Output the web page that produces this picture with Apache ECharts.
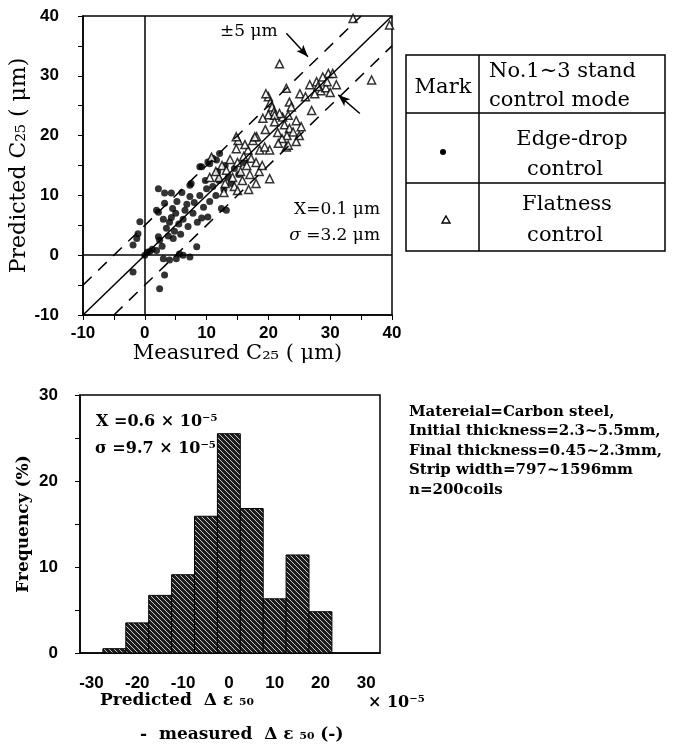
<!DOCTYPE html>
<html>
<head>
<meta charset="utf-8">
<script src="https://cdn.jsdelivr.net/npm/echarts@6/dist/echarts.min.js"></script>
<style>
  html, body { margin: 0; background: #fff; }
  #chart { width: 695px; height: 752px; }
</style>
</head>
<body>
<div id="chart"></div>
<script>
// Measured vs predicted C25 (um) - edge-drop control coils (filled dots)
const edgeDrop = [
  [-1.9, 1.7], [-1.1, 3.6], [-0.8, 5.6], [-1.3, 2.8], [-1.9, -2.8], [0, 0], [0.4, 0.5],
  [0.8, 0.6], [1.9, 0.8], [1.2, 1.0], [3.0, -0.6], [4.0, -0.8], [5.1, -0.6], [6.2, 0],
  [7.3, -0.3], [5.6, 0.2], [3.2, -3.3], [2.4, -5.6], [2.2, 3.1], [2.4, 2.5], [8.4, 1.4],
  [1.9, 7.5], [2.2, 7.2], [3.2, 8.7], [2.2, 11.1], [3.2, 10.4], [4.3, 10.4], [7.3, 9.8],
  [7.3, 11.7], [7.5, 12], [9.2, 14.8], [10.2, 15.6], [11.0, 16.2], [12.1, 17], [12.4, 7.8],
  [13.2, 7.5], [8.9, 10], [10.0, 11.1], [10.2, 6.4], [9.2, 6.2], [3.5, 4.5], [4.0, 5.5],
  [4.3, 6.3], [4.8, 4.0], [5.0, 7.0], [5.5, 5.2], [5.8, 3.5], [6.2, 6.0], [6.5, 7.5],
  [7.0, 4.8], [3.8, 3.2], [4.5, 7.8], [6.8, 8.5], [7.8, 7.0], [8.0, 8.8], [8.5, 5.5],
  [9.5, 8.0], [10.5, 9.0], [11.0, 11.5], [11.5, 10.0], [12.0, 12.5], [12.8, 11.0],
  [13.5, 13.0], [14.0, 12.0], [14.5, 14.5], [13.0, 15.0], [9.8, 12.5], [11.8, 14.0],
  [15.2, 13.5], [16.0, 15.5], [3.0, 6.0], [5.2, 9.0], [6.0, 10.5], [4.6, 2.8], [2.8, 1.5],
  [8.9, 14.8], [10.5, 15.3], [11.6, 15.9]
];

// flatness control coils (open triangles)
const flatness = [
  [33.7, 39.6], [39.6, 38.5], [36.7, 29.3], [21.8, 32], [22.9, 27.9], [25.1, 27.0],
  [26.7, 28.5], [27.8, 29.0], [28.5, 27.5], [29.3, 28.0], [29.7, 30.4], [30.4, 30.4],
  [30.0, 27.2], [28.8, 29.8], [29.5, 29.0], [27.0, 24.2], [20.0, 26.5], [20.3, 25.5],
  [20.6, 24.8], [20.9, 24.0], [20.0, 23.5], [19.6, 27.0], [23.4, 25.6], [23.7, 24.8],
  [23.2, 23.4], [22.3, 23.1], [21.8, 23.7], [22.6, 21.8], [23.4, 21.2], [24.0, 20.6],
  [23.0, 20.0], [22.2, 19.5], [21.0, 23.4], [21.0, 22.3], [19.1, 22.9], [22.9, 18.1],
  [21.6, 18.7], [20.2, 17.6], [18.6, 17.6], [17.5, 19.2], [18.1, 19.8], [16.7, 17.6],
  [15.1, 19.2], [14.8, 17.8], [14.8, 19.8], [17.8, 19.8], [20.2, 12.8], [19.4, 18.1],
  [23.2, 18.4], [10.8, 16.4], [12.5, 15.0], [13.2, 14.2], [13.8, 16.0], [14.2, 13.0],
  [15.0, 15.5], [15.5, 14.0], [16.0, 16.5], [16.5, 15.0], [17.0, 13.5], [17.2, 16.2],
  [18.0, 15.5], [18.5, 14.0], [12.0, 13.0], [13.0, 12.0], [14.5, 11.5], [15.8, 12.5],
  [16.8, 11.0], [18.0, 12.0], [19.0, 15.0], [11.5, 14.0], [10.5, 13.0], [24.5, 22.5],
  [25.0, 20.0], [24.5, 19.0], [25.3, 21.5], [21.5, 20.5], [19.5, 21.0], [26.0, 26.5],
  [27.5, 27.0], [28.0, 28.2], [31.0, 28.5], [12.8, 10.5], [15.0, 10.8], [16.2, 18.5]
];

// y = x and the +-5 um band
const diagLine = [[-10, -10], [40, 40]];
const upperBand = [[-10, -5], [35, 40]];
const lowerBand = [[-5, -10], [40, 35]];
const upperArrow = [[22.9, 37.1], [26.4, 33.2]];
const lowerArrow = [[34.8, 23.7], [31.3, 26.8]];

// histogram of predicted - measured delta eps50 (x1e-5), bin width 5
const histCenters = [-25, -20, -15, -10, -5, 0, 5, 10, 15, 20];
const histFreq = [0.5, 3.5, 6.7, 9.1, 15.9, 25.5, 16.8, 6.3, 11.4, 4.8];
const histLabels = [-30, -20, -10, 0, 10, 20, 30];
const binWidth = 5;

const infoLines = [
  'Matereial=Carbon steel,',
  'Initial thickness=2.3~5.5mm,',
  'Final thickness=0.45~2.3mm,',
  'Strip width=797~1596mm',
  'n=200coils'
];

const serif = '"DejaVu Serif", "Liberation Serif", serif';
const sans = '"Liberation Sans", Arial, sans-serif';

const chart = echarts.init(document.getElementById('chart'));

// dark hatch used in the printed histogram
function hatch() {
  const c = document.createElement('canvas');
  c.width = 5; c.height = 5;
  const g = c.getContext('2d');
  g.fillStyle = '#1c1c1c';
  g.fillRect(0, 0, 5, 5);
  g.strokeStyle = '#c8c8c8';
  g.lineWidth = 1;
  g.beginPath();
  g.moveTo(0, 0); g.lineTo(5, 5);
  g.moveTo(-3, 2); g.lineTo(3, 8);
  g.moveTo(2, -3); g.lineTo(8, 3);
  g.stroke();
  return c;
}

const tickLabel = { color: '#000', fontFamily: sans, fontWeight: 'bold', fontSize: 17 };
const blackLine = { color: '#000', width: 1.5 };
const seg = (pts) => [{ coord: pts[0] }, { coord: pts[1] }];
const dashed = { type: [12, 9], width: 1.5, color: '#000' };

const scatterLines = [{ yAxis: 0 }, { xAxis: 0 }, seg(diagLine), seg(upperBand), seg(lowerBand)];
scatterLines[3][0].lineStyle = dashed;
scatterLines[4][0].lineStyle = dashed;

const arrowLines = [seg(upperArrow), seg(lowerArrow)];
arrowLines[0][0].lineStyle = { curveness: -0.35, color: '#000', width: 1.5, type: 'solid' };

const option = {
  animation: false,
  backgroundColor: '#fff',
  grid: [
    { left: 83, top: 16, width: 309, height: 299, show: true, borderColor: '#000', borderWidth: 1.5 },
    { left: 80, top: 395, width: 300, height: 258, show: true, borderColor: '#000', borderWidth: 1.5 }
  ],
  xAxis: [
    {
      gridIndex: 0, type: 'value', min: -10, max: 40, interval: 10,
      axisLine: { onZero: false, lineStyle: blackLine },
      axisTick: { length: 5, lineStyle: { color: '#000' } },
      minorTick: { show: true, splitNumber: 2, length: 5, lineStyle: { color: '#000' } },
      splitLine: { show: false },
      axisLabel: Object.assign({ margin: 10 }, tickLabel),
      name: 'Measured C₂₅ ( μm)', nameLocation: 'middle', nameGap: 24,
      nameTextStyle: { color: '#000', fontFamily: serif, fontSize: 21 }
    },
    {
      gridIndex: 1, type: 'value', min: -32.5, max: 33,
      axisLine: { onZero: false, lineStyle: blackLine },
      axisTick: { show: false },
      splitLine: { show: false },
      axisLabel: Object.assign({ margin: 22, customValues: histLabels }, tickLabel)
    }
  ],
  yAxis: [
    {
      gridIndex: 0, type: 'value', min: -10, max: 40, interval: 10,
      axisLine: { onZero: false, lineStyle: blackLine },
      axisTick: { length: 5, lineStyle: { color: '#000' } },
      minorTick: { show: true, splitNumber: 2, length: 5, lineStyle: { color: '#000' } },
      splitLine: { show: false },
      axisLabel: Object.assign({ margin: 24 }, tickLabel),
      name: 'Predicted C₂₅ ( μm)', nameLocation: 'middle', nameGap: 50, nameRotate: 90,
      nameTextStyle: { color: '#000', fontFamily: serif, fontSize: 22 }
    },
    {
      gridIndex: 1, type: 'value', min: 0, max: 30, interval: 10,
      axisLine: { onZero: false, lineStyle: blackLine },
      axisTick: { length: 5, lineStyle: { color: '#000' } },
      minorTick: { show: true, splitNumber: 2, length: 5, lineStyle: { color: '#000' } },
      splitLine: { show: false },
      axisLabel: Object.assign({ margin: 22 }, tickLabel),
      name: 'Frequency (%)', nameLocation: 'middle', nameGap: 48, nameRotate: 90,
      nameTextStyle: { color: '#000', fontFamily: serif, fontWeight: 'bold', fontSize: 17 }
    }
  ],
  series: [
    {
      name: 'Edge-drop control', type: 'scatter', xAxisIndex: 0, yAxisIndex: 0,
      data: edgeDrop, symbol: 'circle', symbolSize: 7,
      itemStyle: { color: '#000' },
      markLine: {
        silent: true, symbol: 'none', label: { show: false },
        lineStyle: { color: '#000', width: 1.5, type: 'solid' },
        data: scatterLines
      },
      z: 3
    },
    {
      name: 'Flatness control', type: 'scatter', xAxisIndex: 0, yAxisIndex: 0,
      data: flatness, symbol: 'triangle', symbolSize: 8,
      itemStyle: { color: '#fff', borderColor: '#000', borderWidth: 1.5 },
      markLine: {
        silent: true, symbol: ['none', 'arrow'], symbolSize: [7, 12], label: { show: false },
        lineStyle: { color: '#000', width: 1.5, type: 'solid' },
        data: arrowLines
      },
      z: 4
    },
    {
      name: 'Frequency', type: 'custom', xAxisIndex: 1, yAxisIndex: 1,
      data: histCenters.map((c, i) => [c, histFreq[i]]),
      renderItem: (params, api) => {
        const c = api.value(0), f = api.value(1);
        const p0 = api.coord([c - binWidth / 2, f]);
        const p1 = api.coord([c + binWidth / 2, 0]);
        return {
          type: 'rect',
          shape: { x: p0[0], y: p0[1], width: p1[0] - p0[0], height: p1[1] - p0[1] },
          style: { fill: { image: hatch(), repeat: 'repeat' }, stroke: '#000', lineWidth: 1 }
        };
      }
    }
  ],
  graphic: [
    // annotations in the scatter plot
    { type: 'text', left: 220, top: 23, style: { text: '±5 μm', font: '17px ' + serif, fill: '#000' } },
    { type: 'text', right: 315, top: 201, style: { text: 'X=0.1 μm', font: '17px ' + serif, fill: '#000' } },
    {
      type: 'text', right: 315, top: 227,
      style: {
        text: '{i|σ} =3.2 μm', font: '17px ' + serif, fill: '#000',
        rich: { i: { fontStyle: 'italic', fontFamily: serif, fontSize: 17 } }
      }
    },

    // legend table
    { type: 'rect', shape: { x: 406, y: 55, width: 259, height: 196 }, style: { fill: 'none', stroke: '#000', lineWidth: 1.5 } },
    { type: 'line', shape: { x1: 479, y1: 55, x2: 479, y2: 251 }, style: { stroke: '#000', lineWidth: 1.5 } },
    { type: 'line', shape: { x1: 406, y1: 113, x2: 665, y2: 113 }, style: { stroke: '#000', lineWidth: 1.5 } },
    { type: 'line', shape: { x1: 406, y1: 183, x2: 665, y2: 183 }, style: { stroke: '#000', lineWidth: 1.5 } },
    { type: 'text', x: 443, y: 88, style: { text: 'Mark', font: '21px ' + serif, fill: '#000', align: 'center', verticalAlign: 'middle' } },
    { type: 'text', x: 489, y: 72, style: { text: 'No.1∼3 stand', font: '21px ' + serif, fill: '#000', verticalAlign: 'middle' } },
    { type: 'text', x: 489, y: 101, style: { text: 'control mode', font: '21px ' + serif, fill: '#000', verticalAlign: 'middle' } },
    { type: 'text', x: 572, y: 140, style: { text: 'Edge-drop', font: '21px ' + serif, fill: '#000', align: 'center', verticalAlign: 'middle' } },
    { type: 'text', x: 565, y: 170, style: { text: 'control', font: '21px ' + serif, fill: '#000', align: 'center', verticalAlign: 'middle' } },
    { type: 'text', x: 567, y: 205, style: { text: 'Flatness', font: '21px ' + serif, fill: '#000', align: 'center', verticalAlign: 'middle' } },
    { type: 'text', x: 565, y: 236, style: { text: 'control', font: '21px ' + serif, fill: '#000', align: 'center', verticalAlign: 'middle' } },
    { type: 'circle', shape: { cx: 443, cy: 152, r: 3 }, style: { fill: '#000' } },
    { type: 'polygon', shape: { points: [[446, 216], [450, 223], [442, 223]] }, style: { fill: '#fff', stroke: '#000', lineWidth: 1.4 } },

    // histogram annotations
    { type: 'text', left: 96, top: 414, style: { text: 'X =0.6 × 10⁻⁵', font: 'bold 16px ' + serif, fill: '#000' } },
    { type: 'text', left: 95, top: 441, style: { text: 'σ =9.7 × 10⁻⁵', font: 'bold 16px ' + serif, fill: '#000' } },
    { type: 'text', left: 368, top: 695, style: { text: '× 10⁻⁵', font: 'bold 16px ' + serif, fill: '#000' } },
    { type: 'text', left: 100, top: 692, style: { text: 'Predicted  Δ ε ₅₀', font: 'bold 17px ' + serif, fill: '#000' } },
    { type: 'text', left: 140, top: 726, style: { text: '-  measured  Δ ε ₅₀ (-)', font: 'bold 17px ' + serif, fill: '#000' } },

    // material info block
    {
      type: 'text', left: 409, top: 402,
      style: { text: infoLines.join('\n'), font: 'bold 15px ' + serif, lineHeight: 19.5, fill: '#000' }
    }
  ]
};

chart.setOption(option);
</script>
</body>
</html>
